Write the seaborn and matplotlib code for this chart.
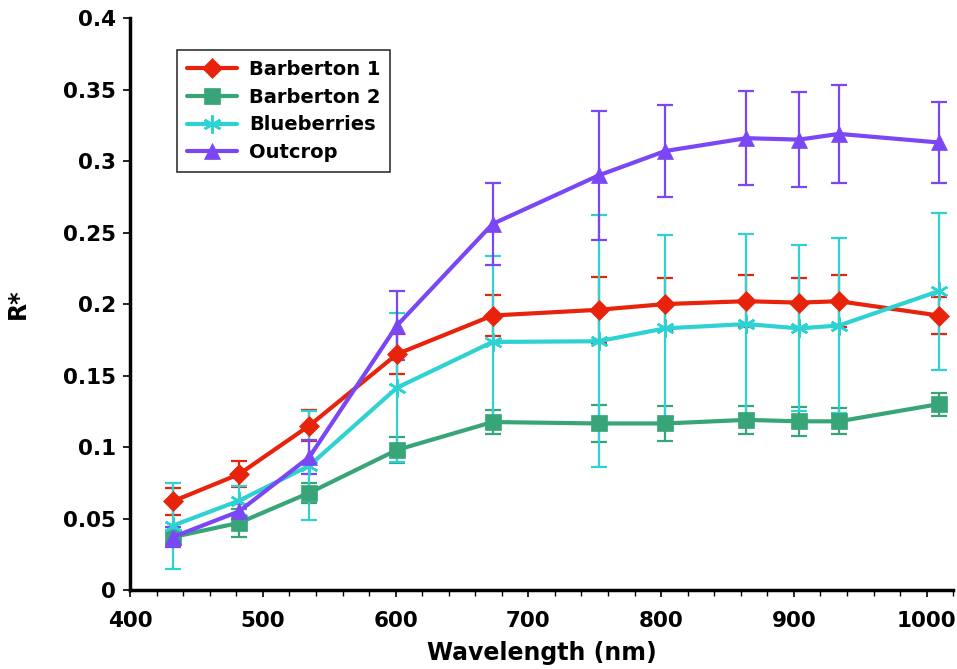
import matplotlib
matplotlib.use("Agg")
import matplotlib.pyplot as plt
import seaborn as sns
import pandas as pd
import numpy as np
from matplotlib.ticker import MultipleLocator, FuncFormatter

wavelength = [432, 482, 535, 601, 673, 753, 803, 864, 904, 934, 1009]

barberton1 = [0.062, 0.081, 0.115, 0.165, 0.192, 0.196, 0.200, 0.202, 0.201, 0.202, 0.192]
barberton1_err = [0.0095, 0.009, 0.011, 0.014, 0.014, 0.023, 0.018, 0.018, 0.017, 0.018, 0.013]

barberton2 = [0.037, 0.047, 0.068, 0.098, 0.1175, 0.1165, 0.1165, 0.119, 0.118, 0.118, 0.130]
barberton2_err = [0.005, 0.010, 0.007, 0.009, 0.0085, 0.013, 0.012, 0.010, 0.010, 0.009, 0.008]

blueberries = [0.045, 0.0625, 0.087, 0.1415, 0.1735, 0.174, 0.183, 0.186, 0.183, 0.185, 0.209]
blueberries_err = [0.030, 0.010, 0.038, 0.052, 0.060, 0.088, 0.065, 0.063, 0.058, 0.061, 0.055]

outcrop = [0.037, 0.055, 0.093, 0.185, 0.256, 0.290, 0.307, 0.316, 0.315, 0.319, 0.313]
outcrop_err = [0.007, 0.005, 0.012, 0.024, 0.029, 0.045, 0.032, 0.033, 0.033, 0.034, 0.028]

series_names = ["Barberton 1", "Barberton 2", "Blueberries", "Outcrop"]
series_vals = [barberton1, barberton2, blueberries, outcrop]
series_errs = [barberton1_err, barberton2_err, blueberries_err, outcrop_err]

colors = ["#E8230C", "#38A578", "#2ED2D2", "#7B47F4"]
markers = ["D", "s", (6, 2, 0), "^"]
msizes = [10, 11, 13, 12]

sns.set_theme(style="white")
plt.rcParams["font.family"] = ["DejaVu Sans"]
plt.rcParams["font.weight"] = "bold"
plt.rcParams["text.color"] = "black"
plt.rcParams["axes.labelcolor"] = "black"
plt.rcParams["xtick.color"] = "black"
plt.rcParams["ytick.color"] = "black"

df = pd.concat([
    pd.DataFrame({"Wavelength": wavelength, "R": v, "err": e, "Series": n})
    for n, v, e in zip(series_names, series_vals, series_errs)
], ignore_index=True)

fig = plt.figure(figsize=(9.57, 6.69), dpi=100)
ax = fig.add_axes([0.136, 0.118, 0.860, 0.855])

for name, col, mk, ms in zip(series_names, colors, markers, msizes):
    sub = df[df["Series"] == name]
    ax.errorbar(sub["Wavelength"], sub["R"], yerr=sub["err"], fmt="none",
                ecolor=col, elinewidth=1.6, capsize=6, capthick=1.6, zorder=2)

for name, col, mk, ms in zip(series_names, colors, markers, msizes):
    sub = df[df["Series"] == name]
    sns.lineplot(data=sub, x="Wavelength", y="R", ax=ax, color=col, marker=mk,
                 markersize=ms, markeredgecolor=col, markeredgewidth=1.8 if mk == (6, 2, 0) else 0.5,
                 linewidth=3, label=name, zorder=3, errorbar=None)

ax.set_xlim(400, 1020)
ax.set_ylim(0, 0.4)
ax.xaxis.set_major_locator(MultipleLocator(100))
ax.xaxis.set_minor_locator(MultipleLocator(20))
ax.yaxis.set_major_locator(MultipleLocator(0.05))
ax.yaxis.set_major_formatter(FuncFormatter(lambda v, p: f"{v:g}" if abs(v) > 1e-9 else "0"))

for s in ["top", "right"]:
    ax.spines[s].set_visible(False)
for s in ["left", "bottom"]:
    ax.spines[s].set_color("black")
    ax.spines[s].set_linewidth(2.5)

ax.tick_params(axis="both", which="major", direction="out", length=5, width=1.2,
               colors="black", labelsize=15.5)
ax.tick_params(axis="x", which="major", pad=10)
ax.tick_params(axis="y", which="major", pad=5)
ax.tick_params(axis="x", which="minor", direction="out", length=4, width=1.0, colors="black")
ax.tick_params(axis="x", which="both", bottom=True)
ax.tick_params(axis="y", which="both", left=True)
for lab in ax.get_xticklabels() + ax.get_yticklabels():
    lab.set_fontweight("bold")

ax.set_xlabel("Wavelength (nm)", fontsize=17, fontweight="bold", labelpad=7, color="black")
ax.set_ylabel("R*", fontsize=17, fontweight="bold", labelpad=24, color="black")

leg = ax.legend(loc="upper left", bbox_to_anchor=(0.057, 0.944), borderaxespad=0,
                frameon=True, fancybox=False, edgecolor="black",
                prop={"weight": "bold", "size": 14},
                handlelength=2.6, borderpad=0.5, labelspacing=0.45, handletextpad=0.6)
leg.get_frame().set_linewidth(1.2)
for t in leg.get_texts():
    t.set_color("black")

fig.savefig("out.png", dpi=100)
